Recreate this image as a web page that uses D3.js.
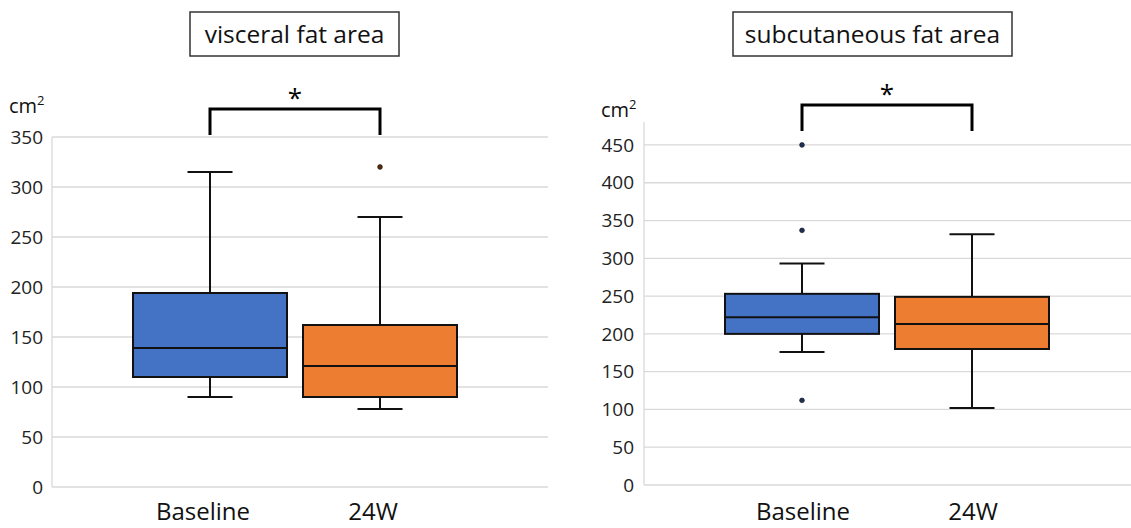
<!DOCTYPE html>
<html>
<head>
<meta charset="utf-8">
<script src="https://cdn.jsdelivr.net/npm/d3@7"></script>
<style>
  body { margin: 0; background: #fff; }
  svg { display: block; font-family: "Open Sans", Lato, sans-serif; }
</style>
</head>
<body>
<div id="chart"></div>
<script>
// Data
const categories = ["Baseline", "24W"];
const seriesColors = ["#4472C4", "#ED7D31"];
const outlierColors = ["#1F2F55", "#5A2A0A"];

const visceralMin     = [90, 78];
const visceralQ1      = [110, 90];
const visceralMedian  = [139, 121];
const visceralQ3      = [194, 162];
const visceralMax     = [315, 270];
const visceralOutliers = [[], [320]];
const visceralTicks   = [0, 50, 100, 150, 200, 250, 300, 350];

const subcutMin      = [176, 102];
const subcutQ1       = [200, 180];
const subcutMedian   = [222, 213];
const subcutQ3       = [253, 249];
const subcutMax      = [293, 332];
const subcutOutliers = [[450, 337, 112], []];
const subcutTicks    = [0, 50, 100, 150, 200, 250, 300, 350, 400, 450];

const titles = ["visceral fat area", "subcutaneous fat area"];

// Layout
const config = {
  width  : 1131,
  height : 528,
  gridColor : "#d9d9d9",
  boxWidth  : 154,
  tickFont  : 19,
  titleFont : 24.5,
  catFont   : 24,
};

const panels = [
  { title: titles[0], min: visceralMin, q1: visceralQ1, med: visceralMedian, q3: visceralQ3, max: visceralMax,
    out: visceralOutliers, ticks: visceralTicks, yMax: 350,
    plotX: [52, 548], plotY: [487, 137], catRange: [210, 380], labelShift: -7,
    tickX: 43, unitX: 9, unitY: 113, titleBox: [190, 12, 209, 44],
    bracketTop: 109, bracketBottom: 135, starY: 107 },
  { title: titles[1], min: subcutMin, q1: subcutQ1, med: subcutMedian, q3: subcutQ3, max: subcutMax,
    out: subcutOutliers, ticks: subcutTicks, yMax: 480,
    plotX: [644, 1131], plotY: [485, 122.3], catRange: [802, 972], labelShift: 1,
    tickX: 634, unitX: 601, unitY: 117, titleBox: [733, 12, 279, 44],
    bracketTop: 105, bracketBottom: 131, starY: 103 }
];

const svg = d3.select("#chart")
  .append("svg")
    .attr("width", config.width)
    .attr("height", config.height);

panels.forEach(function(p) {
  const g = svg.append("g");

  const y = d3.scaleLinear().domain([0, p.yMax]).range(p.plotY);
  const x = d3.scalePoint().domain(categories).range(p.catRange);

  // gridlines
  g.selectAll(".grid")
    .data(p.ticks)
    .enter()
    .append("line")
      .attr("x1", p.plotX[0])
      .attr("x2", p.plotX[1])
      .attr("y1", function(d) { return y(d) })
      .attr("y2", function(d) { return y(d) })
      .attr("stroke", config.gridColor)
      .attr("stroke-width", 1.3);

  // left axis line
  g.append("line")
    .attr("x1", p.plotX[0]).attr("x2", p.plotX[0])
    .attr("y1", y(0)).attr("y2", y(p.yMax))
    .attr("stroke", config.gridColor)
    .attr("stroke-width", 1.3);

  // tick labels
  g.selectAll(".tick")
    .data(p.ticks)
    .enter()
    .append("text")
      .attr("x", p.tickX)
      .attr("y", function(d) { return y(d) })
      .attr("dy", "0.35em")
      .attr("text-anchor", "end")
      .attr("font-size", config.tickFont)
      .attr("fill", "#222")
      .text(function(d) { return d });

  // unit
  const unit = g.append("text")
    .attr("x", p.unitX)
    .attr("y", p.unitY)
    .attr("font-size", 20)
    .attr("fill", "#111");
  unit.append("tspan").text("cm");
  unit.append("tspan")
    .attr("font-size", 13)
    .attr("dy", -8)
    .text("2");

  // category labels
  g.selectAll(".cat")
    .data(categories)
    .enter()
    .append("text")
      .attr("x", function(d) { return x(d) + p.labelShift })
      .attr("y", 520)
      .attr("text-anchor", "middle")
      .attr("font-size", config.catFont)
      .attr("fill", "#111")
      .text(function(d) { return d });

  // boxes
  const half = config.boxWidth / 2;
  categories.forEach(function(c, i) {
    const cx = x(c);
    const bg = g.append("g");
    // whiskers
    bg.append("line")
      .attr("x1", cx).attr("x2", cx)
      .attr("y1", y(p.max[i])).attr("y2", y(p.q3[i]))
      .attr("stroke", "#111").attr("stroke-width", 2);
    bg.append("line")
      .attr("x1", cx).attr("x2", cx)
      .attr("y1", y(p.q1[i])).attr("y2", y(p.min[i]))
      .attr("stroke", "#111").attr("stroke-width", 2);
    [p.max[i], p.min[i]].forEach(function(v) {
      bg.append("line")
        .attr("x1", cx - 22.5).attr("x2", cx + 22.5)
        .attr("y1", y(v)).attr("y2", y(v))
        .attr("stroke", "#111").attr("stroke-width", 2);
    });
    // box
    bg.append("rect")
      .attr("x", cx - half)
      .attr("y", y(p.q3[i]))
      .attr("width", config.boxWidth)
      .attr("height", y(p.q1[i]) - y(p.q3[i]))
      .attr("fill", seriesColors[i])
      .attr("stroke", "#111")
      .attr("stroke-width", 2);
    // median
    bg.append("line")
      .attr("x1", cx - half).attr("x2", cx + half)
      .attr("y1", y(p.med[i])).attr("y2", y(p.med[i]))
      .attr("stroke", "#111").attr("stroke-width", 2);
    // outliers
    bg.selectAll(".out")
      .data(p.out[i])
      .enter()
      .append("circle")
        .attr("cx", cx)
        .attr("cy", function(d) { return y(d) })
        .attr("r", 2.4)
        .attr("fill", outlierColors[i])
        .attr("stroke", "#111")
        .attr("stroke-width", 0.6);
  });

  // significance bracket
  const x0 = x(categories[0]), x1 = x(categories[1]);
  g.append("path")
    .attr("d", "M" + x0 + "," + p.bracketBottom + "V" + p.bracketTop + "H" + x1 + "V" + p.bracketBottom)
    .attr("fill", "none")
    .attr("stroke", "#000")
    .attr("stroke-width", 3);
  g.append("text")
    .attr("x", (x0 + x1) / 2)
    .attr("y", p.starY)
    .attr("text-anchor", "middle")
    .attr("font-size", 26)
    .attr("fill", "#000")
    .text("*");

  // title box
  const tb = p.titleBox;
  g.append("rect")
    .attr("x", tb[0]).attr("y", tb[1])
    .attr("width", tb[2]).attr("height", tb[3])
    .attr("fill", "#fff")
    .attr("stroke", "#333")
    .attr("stroke-width", 1.5);
  g.append("text")
    .attr("x", tb[0] + tb[2] / 2)
    .attr("y", tb[1] + tb[3] / 2)
    .attr("dy", "0.35em")
    .attr("text-anchor", "middle")
    .attr("font-size", config.titleFont)
    .attr("fill", "#111")
    .text(p.title);
});
</script>
</body>
</html>
